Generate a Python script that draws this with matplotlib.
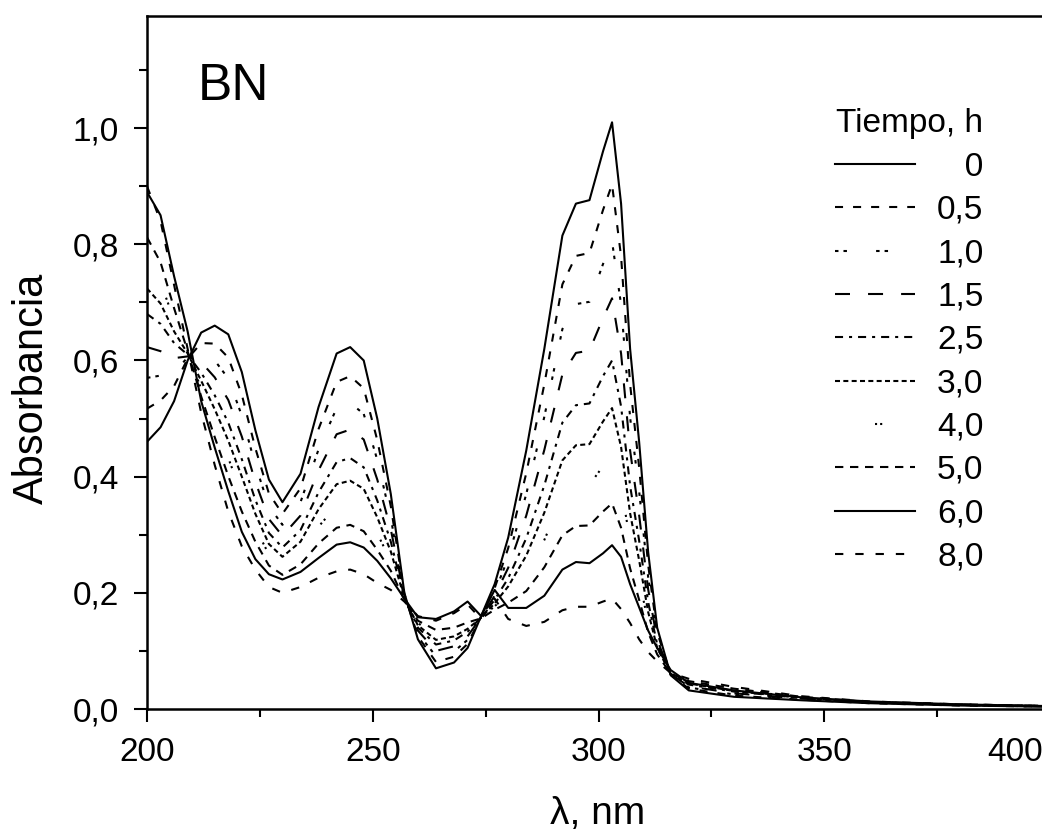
import matplotlib
matplotlib.use("Agg")
import matplotlib.pyplot as plt
from matplotlib.ticker import FixedLocator, MultipleLocator
from matplotlib.transforms import offset_copy

plt.rcParams['font.family'] = ['Liberation Sans', 'DejaVu Sans']
plt.rcParams['lines.scale_dashes'] = False

# Wavelength grid (nm)
wavelength = [200, 203, 206, 209, 212, 215, 218, 221, 224, 227,
              230, 234, 238, 242, 245, 248, 251, 254, 257, 260,
              264, 268, 271, 274, 277, 280, 284, 288, 292, 295,
              298, 301, 303, 305, 307, 309, 311, 313, 316, 320,
              330, 345, 360, 380, 400]

# Absorbance spectra for each irradiation time
abs_0h = [0.460, 0.485, 0.530, 0.600, 0.648, 0.660, 0.645, 0.580, 0.480, 0.395,
          0.356, 0.405, 0.520, 0.612, 0.623, 0.600, 0.500, 0.370, 0.200, 0.120,
          0.070, 0.080, 0.105, 0.160, 0.215, 0.295, 0.445, 0.620, 0.815, 0.870,
          0.876, 0.960, 1.010, 0.870, 0.620, 0.460, 0.270, 0.140, 0.058, 0.032,
          0.021, 0.015, 0.010, 0.006, 0.004]
abs_05h = [0.517, 0.531, 0.556, 0.603, 0.630, 0.629, 0.605, 0.541, 0.449, 0.371,
           0.336, 0.380, 0.482, 0.563, 0.573, 0.552, 0.463, 0.349, 0.198, 0.125,
           0.081, 0.090, 0.112, 0.159, 0.208, 0.277, 0.406, 0.559, 0.731, 0.780,
           0.785, 0.859, 0.903, 0.779, 0.559, 0.416, 0.248, 0.132, 0.059, 0.035,
           0.023, 0.016, 0.010, 0.006, 0.004]
abs_1h = [0.570, 0.574, 0.580, 0.605, 0.614, 0.600, 0.569, 0.505, 0.420, 0.349,
          0.317, 0.356, 0.447, 0.518, 0.527, 0.508, 0.429, 0.329, 0.196, 0.130,
          0.091, 0.099, 0.119, 0.159, 0.201, 0.260, 0.370, 0.503, 0.654, 0.697,
          0.701, 0.766, 0.805, 0.696, 0.502, 0.375, 0.227, 0.126, 0.059, 0.037,
          0.025, 0.017, 0.011, 0.007, 0.004]
abs_15h = [0.623, 0.616, 0.604, 0.607, 0.597, 0.571, 0.532, 0.469, 0.391, 0.327,
           0.298, 0.333, 0.411, 0.473, 0.481, 0.464, 0.395, 0.309, 0.194, 0.135,
           0.100, 0.108, 0.125, 0.158, 0.195, 0.243, 0.333, 0.446, 0.576, 0.613,
           0.617, 0.673, 0.707, 0.612, 0.445, 0.334, 0.206, 0.119, 0.060, 0.039,
           0.027, 0.018, 0.011, 0.007, 0.004]
abs_25h = [0.680, 0.663, 0.630, 0.610, 0.579, 0.540, 0.493, 0.430, 0.360, 0.303,
           0.278, 0.308, 0.373, 0.425, 0.432, 0.416, 0.359, 0.288, 0.193, 0.140,
           0.111, 0.118, 0.133, 0.158, 0.188, 0.225, 0.294, 0.385, 0.493, 0.523,
           0.526, 0.573, 0.600, 0.521, 0.384, 0.290, 0.184, 0.111, 0.060, 0.042,
           0.030, 0.019, 0.012, 0.007, 0.005]
abs_3h = [0.724, 0.698, 0.650, 0.612, 0.565, 0.516, 0.462, 0.400, 0.336, 0.284,
          0.262, 0.288, 0.344, 0.387, 0.393, 0.379, 0.330, 0.271, 0.191, 0.144,
          0.119, 0.125, 0.138, 0.157, 0.182, 0.211, 0.264, 0.338, 0.428, 0.454,
          0.456, 0.495, 0.518, 0.451, 0.337, 0.256, 0.167, 0.105, 0.060, 0.044,
          0.031, 0.019, 0.012, 0.007, 0.005]
abs_4h = [0.768, 0.734, 0.670, 0.614, 0.551, 0.492, 0.432, 0.370, 0.312, 0.266,
          0.247, 0.269, 0.314, 0.350, 0.355, 0.342, 0.302, 0.255, 0.190, 0.148,
          0.127, 0.133, 0.144, 0.157, 0.177, 0.197, 0.234, 0.291, 0.364, 0.384,
          0.386, 0.418, 0.436, 0.381, 0.290, 0.222, 0.150, 0.099, 0.061, 0.046,
          0.033, 0.020, 0.012, 0.007, 0.005]
abs_5h = [0.812, 0.769, 0.690, 0.616, 0.538, 0.468, 0.401, 0.340, 0.288, 0.247,
          0.231, 0.249, 0.285, 0.312, 0.317, 0.306, 0.274, 0.238, 0.188, 0.152,
          0.136, 0.140, 0.149, 0.156, 0.171, 0.183, 0.203, 0.244, 0.299, 0.315,
          0.316, 0.340, 0.354, 0.312, 0.242, 0.188, 0.132, 0.094, 0.061, 0.048,
          0.035, 0.021, 0.012, 0.008, 0.005]
abs_6h = [0.890, 0.850, 0.745, 0.650, 0.530, 0.450, 0.375, 0.305, 0.258, 0.232,
          0.223, 0.236, 0.260, 0.283, 0.287, 0.278, 0.255, 0.225, 0.190, 0.158,
          0.155, 0.168, 0.185, 0.160, 0.205, 0.174, 0.174, 0.195, 0.240, 0.253,
          0.251, 0.268, 0.282, 0.262, 0.215, 0.175, 0.135, 0.105, 0.067, 0.045,
          0.032, 0.020, 0.013, 0.008, 0.005]
abs_8h = [0.900, 0.840, 0.730, 0.620, 0.510, 0.420, 0.340, 0.280, 0.240, 0.210,
          0.200, 0.210, 0.226, 0.237, 0.240, 0.232, 0.217, 0.205, 0.185, 0.160,
          0.152, 0.165, 0.180, 0.155, 0.190, 0.155, 0.143, 0.150, 0.170, 0.176,
          0.176, 0.185, 0.190, 0.172, 0.148, 0.120, 0.098, 0.082, 0.062, 0.052,
          0.038, 0.022, 0.013, 0.008, 0.005]

spectra = [abs_0h, abs_05h, abs_1h, abs_15h, abs_25h,
           abs_3h, abs_4h, abs_5h, abs_6h, abs_8h]
time_labels = ['   0', '0,5', '1,0', '1,5', '2,5',
               '3,0', '4,0', '5,0', '6,0', '8,0']

# Dash patterns (points) for each time
line_styles = [
    '-',
    (0, (5.8, 7.2)),
    (0, (2.5, 3.6, 2.5, 21.0)),
    (0, (10.8, 13.0)),
    (0, (5.8, 4.3, 2.2, 4.3)),
    (0, (3.6, 2.4)),
    (34.4, (1.5, 2.2, 1.5, 58.0)),
    (0, (6.0, 4.8)),
    '-',
    (0, (6.0, 8.6)),
]

x_ticks = [200, 250, 300, 350, 400]
y_ticks = [0.0, 0.2, 0.4, 0.6, 0.8, 1.0]
y_tick_labels = ['0,0', '0,2', '0,4', '0,6', '0,8', '1,0']

W, H, DPI = 1042, 832, 100
fig = plt.figure(figsize=(W / DPI, H / DPI), dpi=DPI)
ax = fig.add_axes([147 / W, (H - 709) / H, (1050 - 147) / W, (709 - 16) / H])

for spec, ls, lbl in zip(spectra, line_styles, time_labels):
    ax.plot(wavelength, spec, color='black', lw=1.5, linestyle=ls, label=lbl)

ax.set_xlim(200, 400)
ax.set_ylim(0, 1.193)

tick_fs = 24
ax.xaxis.set_major_locator(FixedLocator(x_ticks))
ax.set_xticklabels([str(v) for v in x_ticks[:-1]] + [''])
ax.xaxis.set_minor_locator(MultipleLocator(25))
ax.yaxis.set_major_locator(FixedLocator(y_ticks))
ax.set_yticklabels(y_tick_labels)
ax.yaxis.set_minor_locator(MultipleLocator(0.1))

major_len, pad = 9.4, 11
ax.tick_params(which='major', direction='out', length=major_len, width=1.5,
               labelsize=tick_fs, pad=pad, top=False, right=False)
ax.tick_params(which='minor', direction='out', length=5.5, width=1.5,
               top=False, right=False)
for s in ax.spines.values():
    s.set_linewidth(1.8)

# Last x tick label kept inside the page
lbl_trans = offset_copy(ax.get_xaxis_transform(), fig=fig,
                        x=-35, y=-(major_len + pad) * DPI / 72, units='dots')
ax.text(400, 0, '400', transform=lbl_trans, ha='center', va='top',
        fontsize=tick_fs, clip_on=False)

ax.set_xlabel('λ, nm', fontsize=28)
ax.xaxis.label.set_verticalalignment('baseline')
ax.xaxis.set_label_coords(0.499, -0.166)
ax.set_ylabel('Absorbancia', fontsize=30)
ax.yaxis.set_label_coords(-0.105, 0.462)

ax.text(0.0565, 0.879, 'BN', transform=ax.transAxes, fontsize=37,
        ha='left', va='baseline')

leg = ax.legend(loc='upper left', bbox_to_anchor=(0.762, 0.867),
                borderaxespad=0, borderpad=0, frameon=False,
                fontsize=24, title='Tiempo, h', title_fontsize=24,
                handlelength=2.4, handletextpad=0.66, labelspacing=0.37)

fig.savefig('out.png', dpi=DPI)
